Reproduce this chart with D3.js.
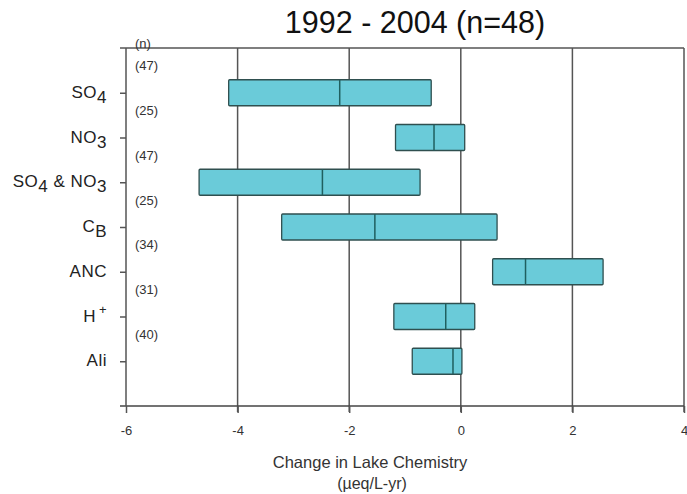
<!DOCTYPE html>
<meta charset="utf-8">
<style>
body { margin: 0; background: #fff; }
svg { font-family: Arial, "Liberation Sans", sans-serif; }
.grid line { stroke: #555; stroke-width: 1.5; }
.box { fill: #6acbd9; stroke: #2f4f4f; stroke-width: 1.3; }
.med { stroke: #1f5f5f; stroke-width: 1.5; }
</style>
<body>
<div id="chart"></div>
<script src="https://d3js.org/d3.v7.min.js"></script>
<script>

// labels: "_x" = subscript, "^x" = superscript
var categories = ["SO_4", "NO_3", "SO_4 & NO_3", "C_B", "ANC", "H^+", "Ali"];
var nCounts = ["(47)", "(25)", "(47)", "(25)", "(34)", "(31)", "(40)"];
var lows    = [-4.16, -1.17, -4.69, -3.21, 0.57, -1.20, -0.87];
var medians = [-2.17, -0.48, -2.48, -1.54, 1.16, -0.27, -0.14];
var highs   = [-0.53, 0.07, -0.73, 0.65, 2.55, 0.25, 0.02];
var xTicks = [-6, -4, -2, 0, 2, 4];

var width = 687, height = 494;
var pLeft = 126, pRight = 684, pTop = 48, pBottom = 406;

var x = d3.scaleLinear().domain([-6, 4]).range([pLeft, pRight]);
var y = d3.scaleLinear().domain([0, 8]).range([pTop, pBottom]);

var svg = d3.select("#chart").append("svg")
    .attr("width", width)
    .attr("height", height);

// title
svg.append("text")
    .attr("x", 415).attr("y", 33)
    .attr("text-anchor", "middle")
    .style("font-size", "30.5px")
    .attr("fill", "#111")
    .text("1992 - 2004 (n=48)");

// vertical grid lines (tick extends below axis)
svg.append("g").attr("class", "grid")
  .selectAll("line")
  .data(xTicks.slice(1))
  .enter().append("line")
    .attr("x1", d => x(d)).attr("x2", d => x(d))
    .attr("y1", pTop).attr("y2", pBottom + 6);

// x axis
var xAxis = d3.axisBottom(x).tickValues(xTicks).tickSize(7).tickPadding(13)
    .tickFormat(d => String(d));
var gx = svg.append("g")
    .attr("transform", "translate(0," + pBottom + ")")
    .call(xAxis);
gx.select(".domain").attr("stroke", "#444").attr("stroke-width", 1.5)
    .attr("d", "M" + (pLeft - 6) + ",0H" + pRight);
gx.selectAll(".tick line").attr("stroke", "#555").attr("stroke-width", 1.5);
gx.selectAll(".tick text").style("font-size", "13px").attr("fill", "#333");

// y axis
var yAxis = d3.axisLeft(y).tickValues(d3.range(1, 8)).tickSize(6).tickFormat("");
var gy = svg.append("g")
    .attr("transform", "translate(" + pLeft + ",0)")
    .call(yAxis);
gy.select(".domain").attr("stroke", "#555").attr("stroke-width", 1.5)
    .attr("d", "M0," + pTop + "V" + pBottom);
gy.selectAll(".tick line").attr("stroke", "#555").attr("stroke-width", 1.5);

// top border
svg.append("line")
    .attr("x1", pLeft - 6).attr("x2", pRight)
    .attr("y1", pTop).attr("y2", pTop)
    .attr("stroke", "#555").attr("stroke-width", 1.5);

// category labels with sub/superscripts
var labels = svg.append("g").selectAll("text")
    .data(categories)
    .enter().append("text")
    .attr("x", 107)
    .attr("y", (d, i) => y(i + 1) + 5)
    .attr("text-anchor", "end")
    .style("font-size", "17px")
    .style("letter-spacing", "0.5px")
    .attr("fill", "#222");

labels.each(function(d) {
  var t = d3.select(this);
  var parts = d.split(/([_^].)/).filter(p => p.length);
  var shift = 0;
  parts.forEach(function(p) {
    if (p[0] === "_") {
      t.append("tspan").attr("dy", 5 - shift).text(p[1]);
      shift = 5;
    } else if (p[0] === "^") {
      t.append("tspan").attr("dy", -8 - shift).attr("dx", 3)
          .style("font-size", "13px").text(p[1]);
      shift = -8;
    } else {
      t.append("tspan").attr("dy", -shift).text(p);
      shift = 0;
    }
  });
});

// n labels
svg.append("text")
    .attr("x", 135).attr("y", 48)
    .style("font-size", "13px").attr("fill", "#333")
    .text("(n)");
svg.append("g").selectAll("text")
    .data(nCounts)
    .enter().append("text")
    .attr("x", 135)
    .attr("y", (d, i) => y(i + 0.5))
    .style("font-size", "13px").attr("fill", "#333")
    .text(d => d);

// boxes
var bh = 26;
var boxes = svg.append("g").selectAll("g")
    .data(categories)
    .enter().append("g");

boxes.append("rect")
    .attr("class", "box")
    .attr("x", (d, i) => x(lows[i]))
    .attr("width", (d, i) => x(highs[i]) - x(lows[i]))
    .attr("y", (d, i) => y(i + 1) - bh / 2)
    .attr("height", bh)
    .attr("rx", 1);

boxes.append("line")
    .attr("class", "med")
    .attr("x1", (d, i) => x(medians[i])).attr("x2", (d, i) => x(medians[i]))
    .attr("y1", (d, i) => y(i + 1) - bh / 2)
    .attr("y2", (d, i) => y(i + 1) + bh / 2);

// x axis title
svg.append("text")
    .attr("x", 370).attr("y", 468)
    .attr("text-anchor", "middle")
    .style("font-size", "16.5px").attr("fill", "#333")
    .text("Change in Lake Chemistry");
svg.append("text")
    .attr("x", 372).attr("y", 489)
    .attr("text-anchor", "middle")
    .style("font-size", "16px").attr("fill", "#333")
    .text("(\u00b5eq/L-yr)");

</script>
</body>
